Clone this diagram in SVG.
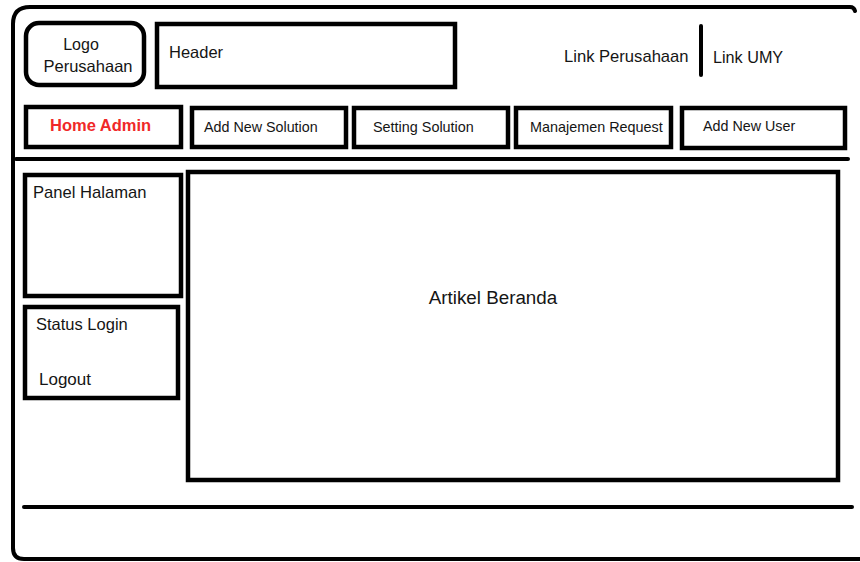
<svg xmlns="http://www.w3.org/2000/svg" width="860" height="562" viewBox="0 0 860 562">
<style>
.box{fill:#fff;stroke:#000;stroke-width:4.5}
.ln{fill:none;stroke:#000;stroke-width:4;stroke-linecap:round}
.t{font-family:"Liberation Sans",Arial,sans-serif;fill:#151515}
</style>
<rect width="860" height="562" fill="#fff"/>
<g id="frame">
<path class="ln" d="M13,548 L13,24 Q13,7 30,7 L850,7 Q854,7 855,11" stroke-width="4"/>
<path class="ln" d="M13,548 Q13,559 24,559 L860,559" stroke-width="3"/>
</g>
<g id="logo">
<rect class="box" x="26" y="23" width="118" height="62" rx="13"/>
<text class="t" x="81" y="50" font-size="16" text-anchor="middle">Logo</text>
<text class="t" x="88" y="72" font-size="16.5" text-anchor="middle">Perusahaan</text>
</g>
<g id="header">
<rect class="box" x="157" y="24" width="298" height="63"/>
<text class="t" x="169" y="58" font-size="16.5">Header</text>
</g>
<g id="links">
<text class="t" x="564" y="62" font-size="16.6">Link Perusahaan</text>
<text class="t" x="713" y="63" font-size="16.2">Link UMY</text>
</g>
<g id="nav-home">
<rect class="box" x="26" y="107" width="155" height="40"/>
<text x="50" y="131" font-size="16.5" font-weight="bold" fill="#f02828" font-family="Liberation Sans,Arial,sans-serif">Home Admin</text>
</g>
<g id="nav-add-solution">
<rect class="box" x="192" y="108" width="154" height="39"/>
<text class="t" x="204" y="132" font-size="14.3">Add New Solution</text>
</g>
<g id="nav-setting">
<rect class="box" x="354" y="108" width="154" height="39"/>
<text class="t" x="373" y="132" font-size="14.4">Setting Solution</text>
</g>
<g id="nav-request">
<rect class="box" x="516" y="108" width="155" height="39"/>
<text class="t" x="530" y="132" font-size="14.4">Manajemen Request</text>
</g>
<g id="nav-user">
<rect class="box" x="682" y="108" width="163" height="40"/>
<text class="t" x="703" y="131" font-size="14.3">Add New User</text>
</g>
<g id="panel">
<rect class="box" x="25" y="175" width="156" height="121"/>
<text class="t" x="33" y="198" font-size="16.6">Panel Halaman</text>
</g>
<g id="status">
<rect class="box" x="25" y="307" width="153" height="91"/>
<text class="t" x="36" y="330" font-size="16.5">Status Login</text>
<text class="t" x="39" y="385" font-size="17">Logout</text>
</g>
<g id="artikel">
<rect class="box" x="188" y="172" width="650" height="308"/>
<text class="t" x="493" y="304" font-size="18.8" text-anchor="middle">Artikel Beranda</text>
</g>
<g id="connectors">
<line class="ln" x1="701" y1="26" x2="701" y2="75" stroke-width="4.5"/>
<line class="ln" x1="16" y1="159" x2="848" y2="159"/>
<line class="ln" x1="24" y1="507" x2="852" y2="507"/>
</g>
</svg>
